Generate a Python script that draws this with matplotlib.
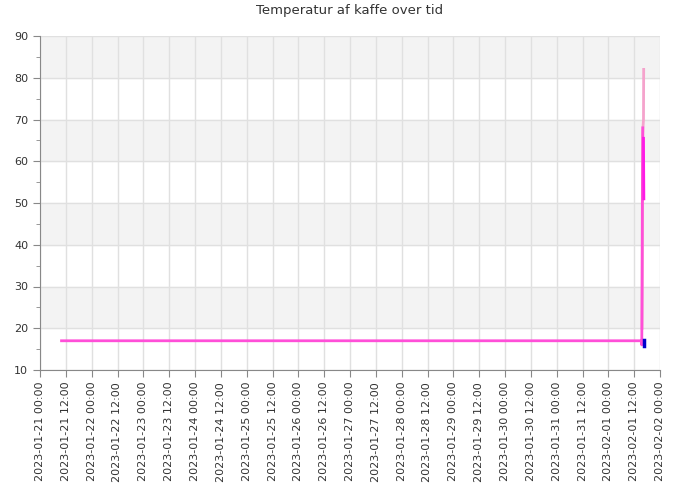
import numpy as np
import pandas as pd
import matplotlib.pyplot as plt
import matplotlib.dates as mdates

# Data
main_times = ['2023-01-21 10:00', '2023-02-01 15:30', '2023-02-01 15:32',
              '2023-02-01 15:40', '2023-02-01 15:50', '2023-02-01 16:00']
main_temps = [17.0, 17.0, 16.0, 30.0, 55.0, 68.0]

peak_times = ['2023-02-01 15:40', '2023-02-01 16:00', '2023-02-01 16:05',
              '2023-02-01 16:20', '2023-02-01 16:25']
peak_temps = [20.0, 66.0, 68.0, 70.0, 82.0]

pour_times = ['2023-02-01 16:20', '2023-02-01 16:25', '2023-02-01 16:30']
pour_temps = [65.5, 58.0, 51.0]

sensor_times = ['2023-02-01 16:25', '2023-02-01 16:25']
sensor_temps = [17.2, 15.8]

x_start = pd.Timestamp('2023-01-21 00:00')
x_end = pd.Timestamp('2023-02-02 00:00')

fig = plt.figure(figsize=(7, 5), dpi=100)
ax = fig.add_axes([40/700, 1-370/500, 620/700, 334/500])

# alternating grey bands
for lo in [20, 40, 60, 80]:
    ax.axhspan(lo, lo+10, color='#f3f3f3', zorder=0)

ax.plot(pd.to_datetime(peak_times), peak_temps, color='#f5a3cc', lw=2, zorder=3)
ax.plot(pd.to_datetime(main_times), main_temps, color='#ff4fd8', lw=2, zorder=3)
ax.plot(pd.to_datetime(pour_times), pour_temps, color='#ff1ae6', lw=2, zorder=4)
ax.plot(pd.to_datetime(sensor_times), sensor_temps, color='#0000cc', lw=2.5, zorder=5)

ax.set_xlim(x_start, x_end)
ax.set_ylim(10, 90)
ax.set_yticks(np.arange(10, 91, 10))
ax.set_yticks(np.arange(15, 90, 10), minor=True)
ax.xaxis.set_major_locator(mdates.HourLocator(byhour=[0, 12]))
ax.xaxis.set_major_formatter(mdates.DateFormatter('%Y-%m-%d %H:%M'))
plt.setp(ax.get_xticklabels(), rotation=90)

ax.grid(True, color='#e0e0e0', lw=1, zorder=1)
ax.set_axisbelow(True)
for s in ['top', 'right']:
    ax.spines[s].set_visible(False)
for s in ['left', 'bottom']:
    ax.spines[s].set_color('#888888')
ax.tick_params(colors='#888888', labelcolor='#333333', labelsize=8, length=5)
ax.tick_params(which='minor', colors='#888888', length=3)

fig.suptitle('Temperatur af kaffe over tid', fontsize=9.5, color='#333333', y=0.992)

fig.savefig('out.png', dpi=100)
